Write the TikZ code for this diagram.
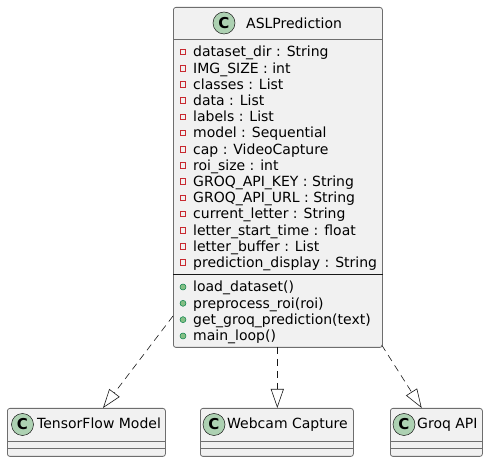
\documentclass[tikz,border=0pt]{standalone}
\usepackage{fontspec}
\setmainfont{DejaVu Sans}
\usetikzlibrary{arrows.meta}
\definecolor{boxfill}{HTML}{F1F1F1}
\definecolor{boxline}{HTML}{181818}
\definecolor{frameline}{HTML}{6E6E6E}
\definecolor{iconfill}{HTML}{ADD1B2}
\definecolor{privred}{HTML}{C82930}
\definecolor{pubfill}{HTML}{84BE84}
\definecolor{publine}{HTML}{038048}
\begin{document}
\begin{tikzpicture}[x=1pt,y=-1pt,
  font=\fontsize{14}{16}\selectfont,
  classbox/.style={draw=frameline, fill=boxfill, line width=0.8pt, rounded corners=2.5pt, inner sep=0pt, anchor=north west},
  sepline/.style={draw=frameline, line width=0.8pt},
  darksep/.style={draw=boxline, line width=1pt},
  txt/.style={inner sep=0pt, anchor=base west, text=black},
  cicon/.style={circle, draw=boxline, fill=iconfill, line width=0.5pt, minimum size=22pt, inner sep=0pt, font=\fontsize{15}{15}\selectfont\bfseries},
  privicon/.style={draw=privred, line width=0.7pt, minimum size=5.5pt, inner sep=0pt},
  pubicon/.style={circle, draw=publine, fill=pubfill, line width=0.5pt, minimum size=6pt, inner sep=0pt},
  dep/.style={draw=boxline, line width=0.6pt, dash pattern=on 7pt off 5pt, -{Triangle[open, length=19pt, width=13pt, fill=white]}}
]
\useasboundingbox (0,0) rectangle (488,462);

% main class
\node[classbox, minimum width=209pt, minimum height=340pt] (asl) at (173,7) {};
\draw[sepline] (asl.west |- 0,39) -- (asl.east |- 0,39);
\draw[darksep] (asl.west |- 0,275) -- (asl.east |- 0,275);
\node[cicon] (aslc) at (224,23) {C};
\node[txt] (aslname) at (246,28.5) {ASLPrediction};

\foreach \t [count=\i from 0] in {
  dataset\_dir : String,
  IMG\_SIZE : int,
  classes : List,
  data : List,
  labels : List,
  model : Sequential,
  cap : VideoCapture,
  roi\_size : int,
  GROQ\_API\_KEY : String,
  GROQ\_API\_URL : String,
  current\_letter : String,
  letter\_start\_time : float,
  letter\_buffer : List,
  prediction\_display : String}{
  \node[privicon] (pa\i) at (183, 52+16.2*\i) {};
  \node[txt] (at\i) at (193, 57+16.2*\i) {\t};
}

\foreach \t [count=\i from 0] in {
  load\_dataset(),
  preprocess\_roi(roi),
  get\_groq\_prediction(text),
  main\_loop()}{
  \node[pubicon] (pm\i) at (183, 287+16.33*\i) {};
  \node[txt] (mt\i) at (193, 291.7+16.33*\i) {\t};
}

% bottom classes
\node[classbox, minimum width=158pt, minimum height=48pt] (tf) at (7,408) {};
\draw[sepline] (tf.west |- 0,441) -- (tf.east |- 0,441);
\draw[sepline] (tf.west |- 0,448) -- (tf.east |- 0,448);
\node[cicon] (tfc) at (22.5,424.5) {C};
\node[txt] (tfname) at (37,429) {TensorFlow Model};

\node[classbox, minimum width=153pt, minimum height=48pt] (wc) at (200,408) {};
\draw[sepline] (wc.west |- 0,441) -- (wc.east |- 0,441);
\draw[sepline] (wc.west |- 0,448) -- (wc.east |- 0,448);
\node[cicon] (wcc) at (214,424.5) {C};
\node[txt] (wcname) at (227,429) {Webcam Capture};

\node[classbox, minimum width=92pt, minimum height=48pt] (gq) at (390,408) {};
\draw[sepline] (gq.west |- 0,441) -- (gq.east |- 0,441);
\draw[sepline] (gq.west |- 0,448) -- (gq.east |- 0,448);
\node[cicon] (gqc) at (404,424.5) {C};
\node[txt] (gqname) at (417,429) {Groq API};

% connectors
\coordinate (s1) at (173,316);
\coordinate (t1) at (103,408);
\coordinate (s2) at (277.3,347);
\coordinate (t2) at (277.3,408);
\coordinate (s3) at (381.7,345);
\coordinate (t3) at (421.7,408);
\draw[dep] (s1) -- (t1);
\draw[dep] (s2) -- (t2);
\draw[dep] (s3) -- (t3);
\end{tikzpicture}
\end{document}
